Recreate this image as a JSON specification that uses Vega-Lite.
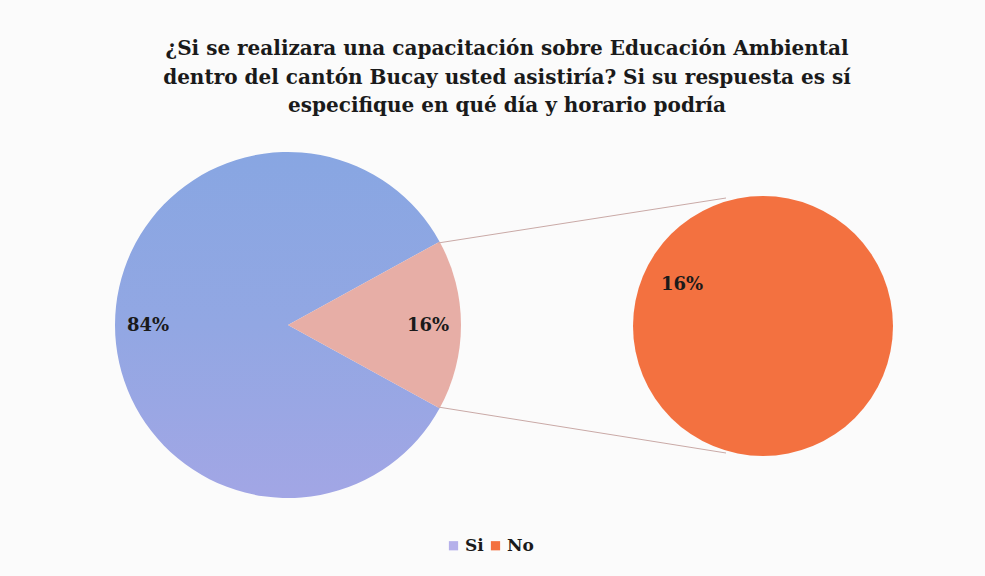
{
  "$schema": "https://vega.github.io/schema/vega-lite/v6.json",
  "width": 985,
  "height": 576,
  "autosize": {"type": "none"},
  "padding": 0,
  "background": "#fbfbfb",
  "config": {"view": {"stroke": null}, "font": "DejaVu Serif"},
  "resolve": {"scale": {"theta": "independent", "color": "independent"}},
  "layer": [
    {
      "data": {"values": [{"respuesta": "Si", "porcentaje": 0.84}, {"respuesta": "No", "porcentaje": 0.16}]},
      "mark": {"type": "arc", "outerRadius": 173},
      "encoding": {
        "x": {"datum": 288, "type": "quantitative", "scale": {"domain": [0, 985]}, "axis": null},
        "y": {"datum": 325, "type": "quantitative", "scale": {"domain": [0, 576], "reverse": true}, "axis": null},
        "theta": {"field": "porcentaje", "type": "quantitative", "stack": true, "scale": {"range": [1.06814, 7.35133]}},
        "order": {"field": "porcentaje", "sort": "ascending"},
        "fill": {
          "condition": {"test": "datum.respuesta === 'Si'", "value": {"gradient": "linear", "x1": 0, "y1": 0, "x2": 0, "y2": 1, "stops": [{"offset": 0, "color": "#88a6e2"}, {"offset": 0.5, "color": "#92a7e3"}, {"offset": 1, "color": "#a2a6e5"}]}},
          "value": "#e7aea6"
        }
      }
    },
    {
      "data": {"values": [{"respuesta": "Si", "porcentaje": 0.84}, {"respuesta": "No", "porcentaje": 0.16}]},
      "mark": {"type": "text", "radius": 140, "font": "DejaVu Serif", "fontWeight": "bold", "fontSize": 18, "color": "#1a1a1a", "align": "center", "baseline": "middle"},
      "encoding": {
        "x": {"datum": 288, "type": "quantitative", "scale": {"domain": [0, 985]}, "axis": null},
        "y": {"datum": 326, "type": "quantitative", "scale": {"domain": [0, 576], "reverse": true}, "axis": null},
        "theta": {"field": "porcentaje", "type": "quantitative", "stack": true, "scale": {"range": [1.06814, 7.35133]}},
        "order": {"field": "porcentaje", "sort": "ascending"},
        "text": {"field": "porcentaje", "type": "quantitative", "format": ".0%"}
      }
    },
    {
      "data": {"values": [{"conector": "superior"}]},
      "mark": {"type": "rule", "color": "#c9a9a6", "strokeWidth": 1},
      "encoding": {
        "x": {"datum": 438, "type": "quantitative", "scale": {"domain": [0, 985]}, "axis": null},
        "y": {"datum": 243, "type": "quantitative", "scale": {"domain": [0, 576], "reverse": true}, "axis": null},
        "x2": {"datum": 726},
        "y2": {"datum": 198}
      }
    },
    {
      "data": {"values": [{"conector": "inferior"}]},
      "mark": {"type": "rule", "color": "#c9a9a6", "strokeWidth": 1},
      "encoding": {
        "x": {"datum": 438, "type": "quantitative", "scale": {"domain": [0, 985]}, "axis": null},
        "y": {"datum": 407, "type": "quantitative", "scale": {"domain": [0, 576], "reverse": true}, "axis": null},
        "x2": {"datum": 726},
        "y2": {"datum": 453}
      }
    },
    {
      "data": {"values": [{"respuesta": "No", "porcentaje": 0.16}]},
      "mark": {"type": "arc", "outerRadius": 130},
      "encoding": {
        "x": {"datum": 763, "type": "quantitative", "scale": {"domain": [0, 985]}, "axis": null},
        "y": {"datum": 326, "type": "quantitative", "scale": {"domain": [0, 576], "reverse": true}, "axis": null},
        "theta": {"field": "porcentaje", "type": "quantitative", "stack": true},
        "color": {
          "field": "respuesta", "type": "nominal",
          "scale": {"domain": ["Si", "No"], "range": ["#b5b0ea", "#f37140"]},
          "legend": {"orient": "none", "legendX": 445, "legendY": 537, "direction": "horizontal", "title": null, "symbolType": "square", "symbolSize": 85, "symbolStrokeWidth": 0, "labelFont": "DejaVu Serif", "labelFontSize": 17, "labelFontWeight": "bold", "labelColor": "#1a1a1a", "columnPadding": 3, "labelOffset": 3}
        }
      }
    },
    {
      "data": {"values": [{"respuesta": "No", "porcentaje": 0.16}]},
      "mark": {"type": "text", "dx": -81, "dy": -41, "font": "DejaVu Serif", "fontWeight": "bold", "fontSize": 18, "color": "#1a1a1a", "align": "center", "baseline": "middle"},
      "encoding": {
        "x": {"datum": 763, "type": "quantitative", "scale": {"domain": [0, 985]}, "axis": null},
        "y": {"datum": 326, "type": "quantitative", "scale": {"domain": [0, 576], "reverse": true}, "axis": null},
        "text": {"field": "porcentaje", "type": "quantitative", "format": ".0%"}
      }
    },
    {
      "data": {"values": [{"titulo": "principal"}]},
      "mark": {"type": "text", "text": ["¿Si se realizara una capacitación sobre Educación Ambiental", "dentro del cantón Bucay usted asistiría? Si su respuesta es sí", "especifique en qué día y horario podría"], "font": "DejaVu Serif", "fontWeight": "bold", "fontSize": 20, "lineHeight": 28.5, "color": "#1a1a1a", "align": "center", "baseline": "alphabetic"},
      "encoding": {
        "x": {"datum": 507, "type": "quantitative", "scale": {"domain": [0, 985]}, "axis": null},
        "y": {"datum": 55, "type": "quantitative", "scale": {"domain": [0, 576], "reverse": true}, "axis": null}
      }
    }
  ]
}
